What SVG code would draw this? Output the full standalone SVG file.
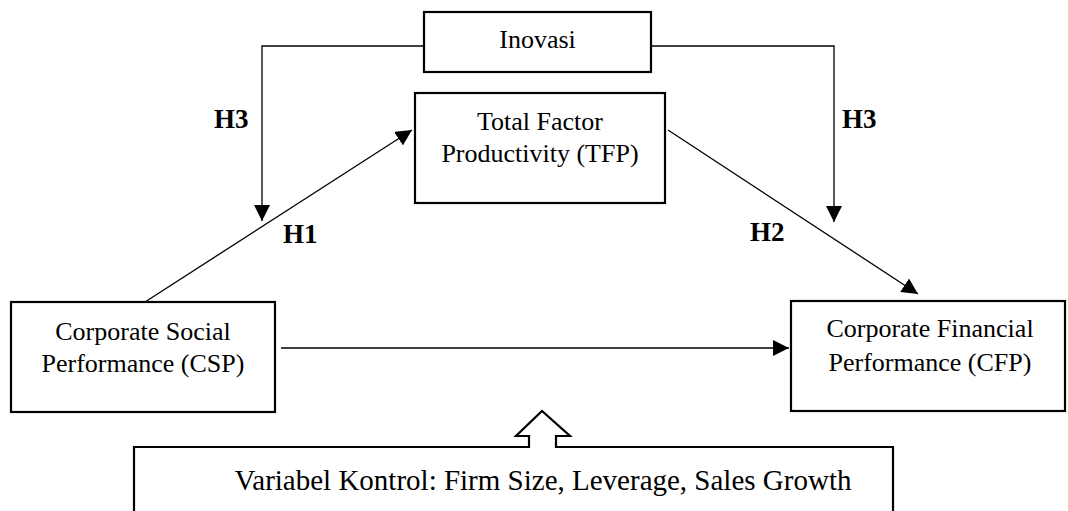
<svg xmlns="http://www.w3.org/2000/svg" width="1068" height="511" viewBox="0 0 1068 511">
  <style>
    .box { fill: #fff; stroke: #000; stroke-width: 2.2; }
    .txt { font-family: "Liberation Serif", "Times New Roman", serif; font-size: 26px; fill: #000; text-anchor: middle; }
    .big { font-family: "Liberation Serif", "Times New Roman", serif; font-size: 29px; fill: #000; text-anchor: middle; }
    .lbl { font-family: "Liberation Serif", "Times New Roman", serif; font-size: 27px; font-weight: bold; fill: #000; }
    .conn { fill: none; stroke: #000; stroke-width: 1.3; }
    .hollow { fill: #fff; stroke: #000; stroke-width: 2.2; }
  </style>
  <defs>
    <marker id="arr" markerUnits="userSpaceOnUse" markerWidth="16" markerHeight="16" refX="16" refY="8" orient="auto">
      <path d="M0,0 L16,8 L0,16 z" fill="#000"/>
    </marker>
  </defs>
  <rect width="1068" height="511" fill="#fff"/>

  <g id="connectors">
    <polyline class="conn" points="424,46 262,46 262,221" marker-end="url(#arr)"/>
    <polyline class="conn" points="651,46 834,46 834,222" marker-end="url(#arr)"/>
    <line class="conn" x1="145" y1="302" x2="412" y2="130" marker-end="url(#arr)"/>
    <line class="conn" x1="668" y1="130" x2="918" y2="294" marker-end="url(#arr)"/>
    <line class="conn" x1="281" y1="348" x2="789" y2="348" marker-end="url(#arr)"/>
  </g>

  <g id="inovasi">
    <rect class="box" x="424" y="12" width="227" height="60"/>
    <text class="txt" x="537.5" y="48">Inovasi</text>
  </g>

  <g id="tfp">
    <rect class="box" x="415" y="93" width="250" height="110"/>
    <text class="txt" x="540" y="130">Total Factor</text>
    <text class="txt" x="540" y="162">Productivity (TFP)</text>
  </g>

  <g id="csp">
    <rect class="box" x="11" y="302" width="264" height="110"/>
    <text class="txt" x="143" y="340">Corporate Social</text>
    <text class="txt" x="143" y="372">Performance (CSP)</text>
  </g>

  <g id="cfp">
    <rect class="box" x="791" y="301" width="274" height="110"/>
    <text class="txt" x="930" y="337">Corporate Financial</text>
    <text class="txt" x="930" y="371">Performance (CFP)</text>
  </g>

  <g id="labels">
    <text class="lbl" x="214" y="128">H3</text>
    <text class="lbl" x="842" y="128">H3</text>
    <text class="lbl" x="283" y="243">H1</text>
    <text class="lbl" x="750" y="241">H2</text>
  </g>

  <g id="kontrol">
    <path class="hollow" d="M134,515 L134,447 L529,447 L529,436 L516,436 L542,411 L570,436 L556,436 L556,447 L893,447 L893,515"/>
    <text class="big" x="543" y="490">Variabel Kontrol: Firm Size, Leverage, Sales Growth</text>
  </g>
</svg>
